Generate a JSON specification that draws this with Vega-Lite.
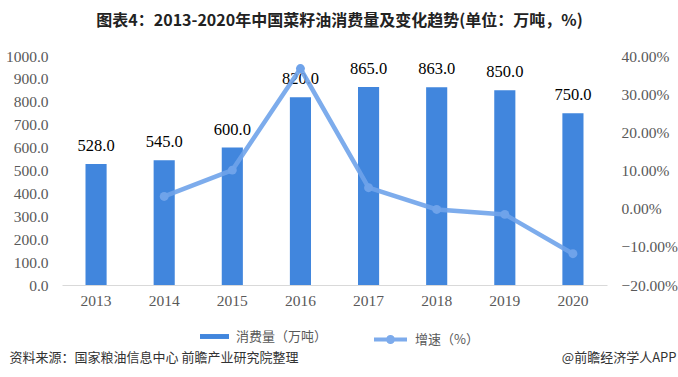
{
  "$schema": "https://vega.github.io/schema/vega-lite/v6.json",
  "width": 545,
  "height": 229,
  "autosize": {"type": "none"},
  "padding": {"left": 62, "top": 56, "right": 71, "bottom": 92},
  "background": "white",
  "title": {
    "text": "图表4：2013-2020年中国菜籽油消费量及变化趋势(单位：万吨，%)",
    "font": "Noto Sans CJK SC",
    "fontSize": 16,
    "fontWeight": "bold",
    "color": "#222222",
    "anchor": "middle",
    "dx": 5,
    "offset": 20
  },
  "config": {
    "view": {"stroke": null},
    "axis": {"grid": false, "ticks": false, "labelColor": "#595959", "labelFont": "Liberation Serif", "labelFontSize": 15.5, "labelOverlap": false}
  },
  "data": {
    "values": [
      {"year": "2013", "consumption": 528, "growth": null},
      {"year": "2014", "consumption": 545, "growth": 0.032},
      {"year": "2015", "consumption": 600, "growth": 0.101},
      {"year": "2016", "consumption": 820, "growth": 0.367},
      {"year": "2017", "consumption": 865, "growth": 0.055},
      {"year": "2018", "consumption": 863, "growth": -0.002},
      {"year": "2019", "consumption": 850, "growth": -0.015},
      {"year": "2020", "consumption": 750, "growth": -0.118}
    ]
  },
  "encoding": {
    "x": {
      "field": "year",
      "type": "ordinal",
      "scale": {"paddingInner": 0.69, "paddingOuter": 0.345},
      "axis": {
        "labelAngle": 0,
        "labelPadding": 8,
        "domainColor": "#d9d9d9",
        "title": "资料来源：国家粮油信息中心 前瞻产业研究院整理",
        "titleFont": "Noto Sans CJK SC",
        "titleFontSize": 13,
        "titleFontWeight": "normal",
        "titleColor": "#333333",
        "titleAnchor": "start",
        "titleAlign": "left",
        "titleBaseline": "middle",
        "titleX": -53,
        "titleY": 72
      }
    }
  },
  "layer": [
    {
      "layer": [
        {
          "mark": {"type": "bar"},
          "encoding": {
            "y": {
              "field": "consumption",
              "type": "quantitative",
              "scale": {"domain": [0, 1000]},
              "axis": {"values": [0, 100, 200, 300, 400, 500, 600, 700, 800, 900, 1000], "format": ".1f", "domain": false, "title": null, "labelPadding": 14, "labelOverlap": false}
            },
            "fill": {
              "datum": "消费量（万吨）",
              "scale": {"range": ["#4186dd"]},
              "legend": {
                "title": null,
                "orient": "none",
                "legendX": 137,
                "legendY": 265,
                "symbolType": "M-1,-0.17H1V0.17H-1Z",
                "symbolSize": 841,
                "labelFont": "Noto Sans CJK SC",
                "labelFontSize": 13,
                "labelColor": "#595959",
                "labelOffset": 6
              }
            }
          }
        },
        {
          "mark": {"type": "text", "dy": -10, "font": "Liberation Serif", "fontSize": 16.5, "color": "#000000", "baseline": "bottom"},
          "encoding": {
            "y": {"field": "consumption", "type": "quantitative", "axis": {"values": [0, 100, 200, 300, 400, 500, 600, 700, 800, 900, 1000], "format": ".1f", "domain": false, "title": null, "labelPadding": 14, "labelOverlap": false}},
            "text": {"field": "consumption", "type": "quantitative", "format": ".1f"}
          }
        }
      ]
    },
    {
      "transform": [{"filter": "datum.growth != null"}],
      "encoding": {
        "y": {
          "field": "growth",
          "type": "quantitative",
          "scale": {"domain": [-0.2, 0.4]},
          "axis": {
            "orient": "right",
            "values": [-0.2, -0.1, 0, 0.1, 0.2, 0.3, 0.4],
            "format": ".2%",
            "domain": false,
            "labelPadding": 14,
            "title": "@前瞻经济学人APP",
            "titleAngle": 0,
            "titleFont": "Noto Sans CJK SC",
            "titleFontSize": 13,
            "titleFontWeight": "normal",
            "titleColor": "#333333",
            "titleAlign": "right",
            "titleBaseline": "middle",
            "titleX": 69,
            "titleY": 301
          }
        }
      },
      "layer": [
        {
          "mark": {"type": "line", "strokeWidth": 4.5, "opacity": 0.9},
          "encoding": {
            "stroke": {
              "datum": "增速（%）",
              "scale": {"range": ["#6fa3ea"]},
              "legend": {
                "title": null,
                "orient": "none",
                "legendX": 310,
                "legendY": 265,
                "symbolType": "M-1,0H1M0.15,0A0.15,0.15,0,1,1,-0.15,0A0.15,0.15,0,1,1,0.15,0Z",
                "symbolSize": 1089,
                "symbolStrokeWidth": 4,
                "symbolFillColor": "#6fa3ea",
                "labelFont": "Noto Sans CJK SC",
                "labelFontSize": 13,
                "labelColor": "#595959",
                "labelOffset": 6
              }
            }
          }
        },
        {
          "mark": {"type": "point", "filled": true, "size": 80, "color": "#6fa3ea", "opacity": 1}
        }
      ]
    }
  ],
  "resolve": {"scale": {"y": "independent", "fill": "independent", "stroke": "independent"}, "legend": {"fill": "independent", "stroke": "independent"}}
}
